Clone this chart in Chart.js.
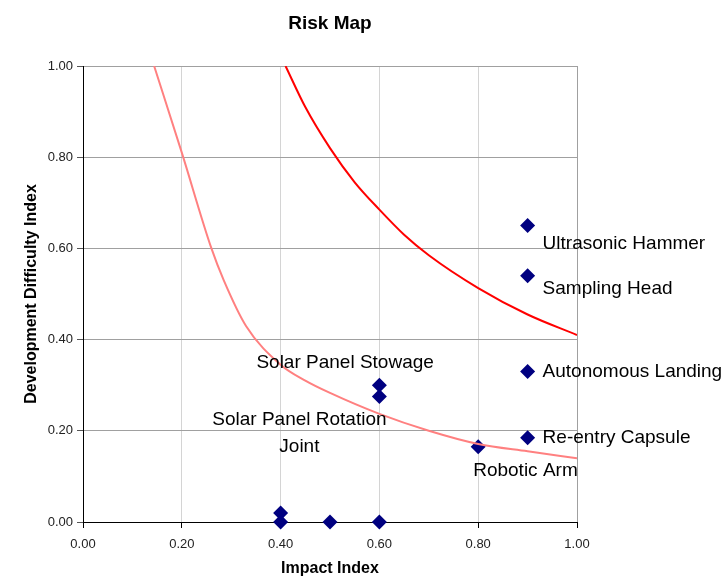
<!DOCTYPE html>
<html>
<head>
<meta charset="utf-8">
<title>Risk Map</title>
<script src="https://cdn.jsdelivr.net/npm/chart.js@4/dist/chart.umd.min.js"></script>
<style>
    html, body { margin: 0; padding: 0; background: #fff; }
    #wrap { width: 727px; height: 583px; }
</style>
</head>
<body>
<div id="wrap"><canvas id="riskChart" width="727" height="583"></canvas></div>
<script>
// risk items
const itemNames = ['Ultrasonic Hammer', 'Sampling Head', 'Autonomous Landing', 'Re-entry Capsule',
    'Robotic Arm', 'Solar Panel Stowage', 'Solar Panel Rotation Joint', '', '', '', ''];
const impactIndex = [0.90, 0.90, 0.90, 0.90, 0.80, 0.60, 0.60, 0.40, 0.40, 0.50, 0.60];
const difficultyIndex = [0.65, 0.54, 0.33, 0.185, 0.165, 0.30, 0.275, 0.02, 0.00, 0.00, 0.00];

// upper (red) boundary curve
const highCurveX = [0.41, 0.45, 0.50, 0.55, 0.60, 0.65, 0.70, 0.80, 0.90, 1.00];
const highCurveY = [1.00, 0.91, 0.82, 0.745, 0.685, 0.63, 0.585, 0.513, 0.455, 0.41];

// lower (pink) boundary curve
const lowCurveX = [0.144, 0.20, 0.26, 0.285, 0.33, 0.40, 0.45, 0.50, 0.60, 0.70, 0.80, 0.90, 1.00];
const lowCurveY = [1.00, 0.81, 0.60, 0.53, 0.43, 0.345, 0.31, 0.283, 0.237, 0.20, 0.171, 0.155, 0.14];

const axisTicks = [0, 0.2, 0.4, 0.6, 0.8, 1.0];
const chartTitle = 'Risk Map';

// where each item label sits relative to its marker (pixels)
const labelPlacement = [
    { dx: 15, dy: 18, align: 'left' },
    { dx: 15, dy: 13, align: 'left' },
    { dx: 15, dy: 0, align: 'left' },
    { dx: 15, dy: 0, align: 'left' },
    { dx: -5, dy: 24, align: 'left' },
    { dx: -123, dy: -22, align: 'left' },
    { dx: -80, dy: 23, align: 'center', wrap: ['Solar Panel Rotation', 'Joint'] }
];

const FONT = "'Liberation Sans', Arial, sans-serif";

function toPoints(xs, ys) {
    return xs.map((x, i) => ({ x: x, y: ys[i] }));
}

const itemLabels = {
    id: 'itemLabels',
    afterDatasetsDraw(chart) {
        const ctx = chart.ctx;
        const meta = chart.getDatasetMeta(2);
        ctx.save();
        ctx.fillStyle = '#000';
        ctx.font = '19px ' + FONT;
        ctx.textBaseline = 'middle';
        itemNames.forEach((name, i) => {
            if (!name) return;
            const pt = meta.data[i];
            const place = labelPlacement[i];
            ctx.textAlign = place.align;
            const lines = place.wrap || [name];
            lines.forEach((line, k) => {
                ctx.fillText(line, pt.x + place.dx, pt.y + place.dy + k * 27);
            });
        });

        // title centred over the plot area, like the original
        const area = chart.chartArea;
        ctx.font = 'bold 19px ' + FONT;
        ctx.textAlign = 'center';
        ctx.fillText(chartTitle, (area.left + area.right) / 2, 24);
        ctx.restore();
    }
};

const ctx = document.getElementById('riskChart').getContext('2d');

new Chart(ctx, {
    type: 'scatter',
    data: {
        datasets: [{
            label: 'High',
            data: toPoints(highCurveX, highCurveY),
            showLine: true,
            borderColor: '#ff0000',
            borderWidth: 2,
            pointRadius: 0,
            cubicInterpolationMode: 'monotone'
        },
        {
            label: 'Low',
            data: toPoints(lowCurveX, lowCurveY),
            showLine: true,
            borderColor: '#ff8080',
            borderWidth: 2,
            pointRadius: 0,
            cubicInterpolationMode: 'monotone'
        },
        {
            label: 'Items',
            data: toPoints(impactIndex, difficultyIndex),
            pointStyle: 'rectRot',
            pointRadius: 7.5,
            backgroundColor: '#000080',
            borderColor: '#000080',
            borderWidth: 0,
            clip: false
        }]
    },
    options: {
        responsive: false,
        animation: false,
        events: [],
        layout: { padding: { left: 0, right: 150, top: 66, bottom: 0 } },
        plugins: {
            legend: { display: false },
            tooltip: { enabled: false },
            title: { display: false }
        },
        scales: {
            x: {
                type: 'linear',
                min: 0,
                max: 1,
                afterBuildTicks: (scale) => { scale.ticks = axisTicks.map(v => ({ value: v })); },
                afterFit: (scale) => { scale.height = 61; },
                ticks: {
                    color: '#222',
                    padding: 9,
                    font: { family: FONT, size: 13 },
                    callback: (v) => Number(v).toFixed(2)
                },
                grid: {
                    color: (c) => (c.tick && c.tick.value === 1 ? '#a0a0a0' : '#d4d4d4'),
                    tickLength: 6,
                    tickColor: '#000'
                },
                border: { color: '#000', width: 1 },
                title: {
                    display: true,
                    text: 'Impact Index',
                    color: '#000',
                    font: { family: FONT, size: 16, weight: 'bold' },
                    padding: { top: 0, bottom: 5 }
                }
            },
            y: {
                type: 'linear',
                min: 0,
                max: 1,
                afterBuildTicks: (scale) => { scale.ticks = axisTicks.map(v => ({ value: v })); },
                afterFit: (scale) => { scale.width = 83; },
                ticks: {
                    color: '#222',
                    padding: 4,
                    font: { family: FONT, size: 13 },
                    callback: (v) => Number(v).toFixed(2)
                },
                grid: {
                    color: '#a0a0a0',
                    tickLength: 6,
                    tickColor: '#555'
                },
                border: { color: '#000', width: 1 },
                title: {
                    display: true,
                    text: 'Development Difficulty Index',
                    color: '#000',
                    font: { family: FONT, size: 16, weight: 'bold' },
                    padding: { top: 22, bottom: 0 }
                }
            }
        }
    },
    plugins: [itemLabels]
});
</script>
</body>
</html>
